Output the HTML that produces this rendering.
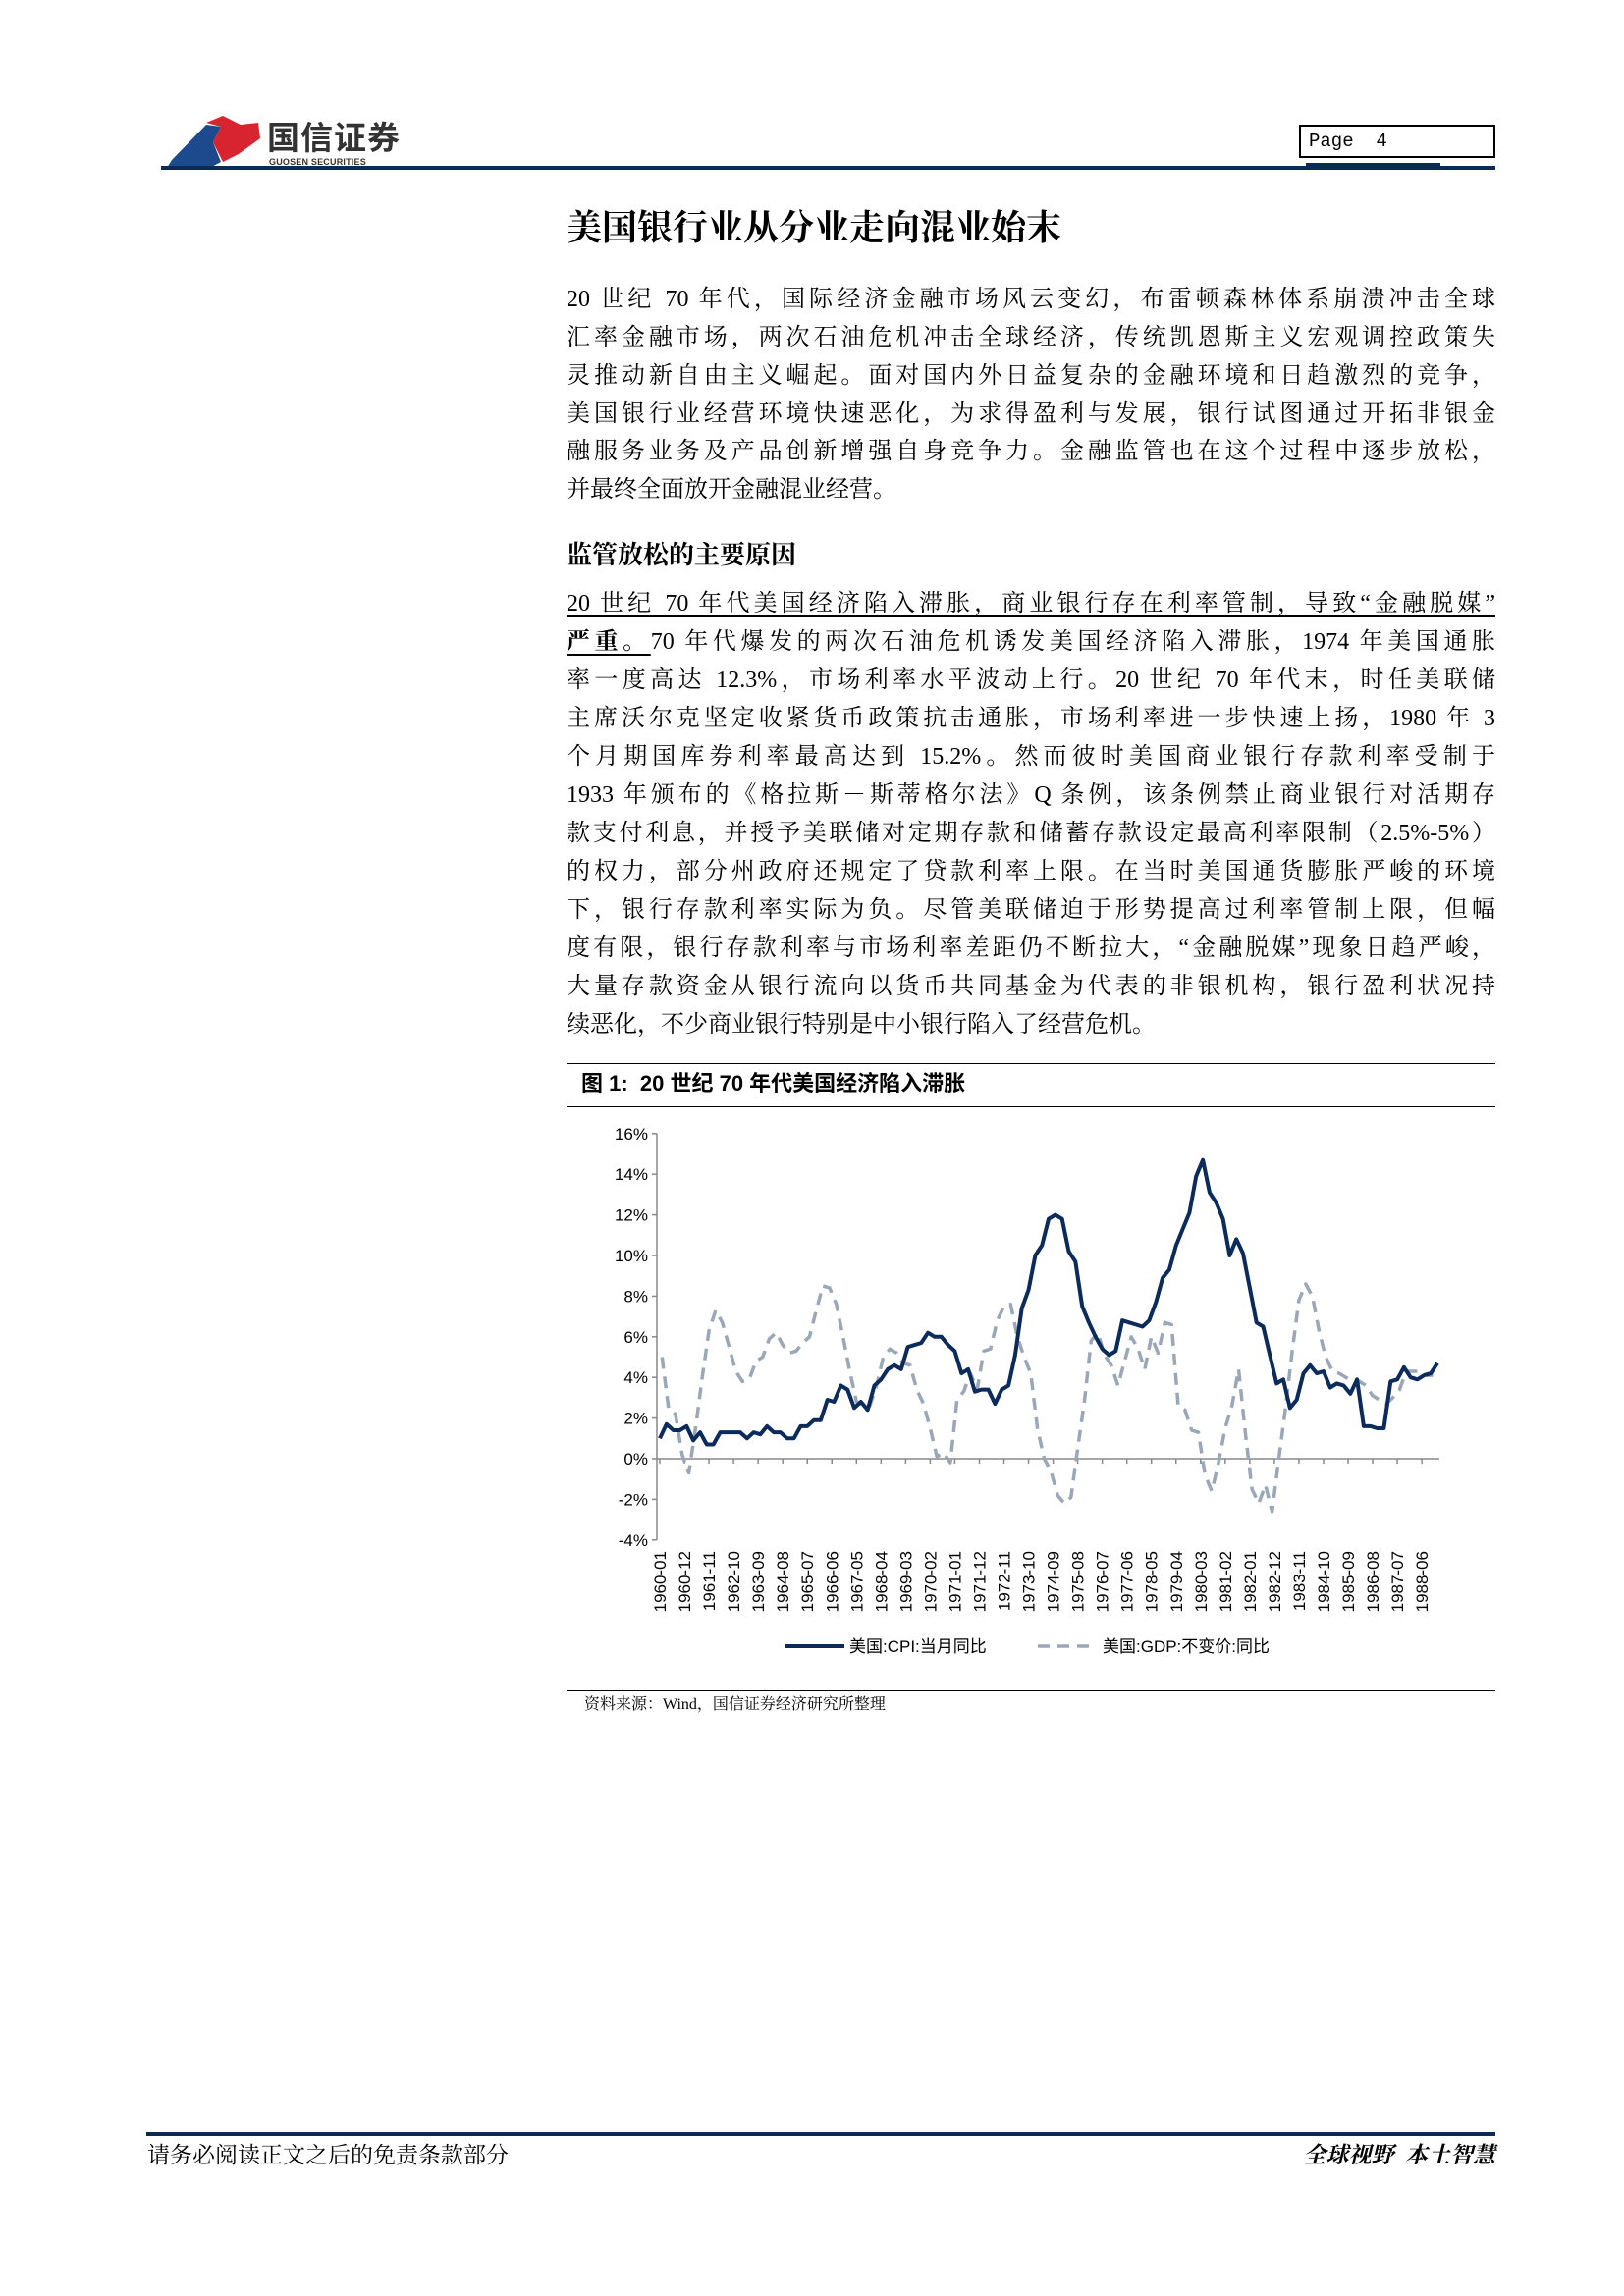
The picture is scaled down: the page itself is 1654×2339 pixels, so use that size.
<!DOCTYPE html>
<html><head><meta charset="utf-8">
<style>
body{margin:0;background:#fff;}
#page{position:relative;width:1654px;height:2339px;overflow:hidden;background:#fff;font-family:"Liberation Serif","Noto Serif CJK SC",serif;color:#000;}
.abs{position:absolute;}
.ln{position:absolute;left:577px;width:946px;font-size:24px;line-height:30px;height:30px;white-space:nowrap;text-align:justify;text-align-last:justify;}
.ln.last{text-align-last:left;}
.u{text-decoration:underline;text-underline-offset:5px;}
</style></head><body>
<div id="page">
  <svg class="abs" style="left:165px;top:115px" width="110" height="60">
    <polygon points="10,48 45,12 60,14 52,30 60,50 45,58 5,56" fill="#1d4a8c"/>
    <polygon points="45,10 62,3 80,12 98,10 100,26 78,42 62,50 52,30 60,14" fill="#d7242f"/>
  </svg>
  <div class="abs" style="left:272px;top:122px;font-family:'Liberation Sans','Noto Sans CJK SC',sans-serif;font-size:33px;font-weight:bold;color:#333;letter-spacing:1px;line-height:38px;">国信证券</div>
  <div class="abs" style="left:274px;top:160px;font-family:'Liberation Sans',sans-serif;font-size:9px;font-weight:bold;color:#333;line-height:10px;letter-spacing:0.2px;">GUOSEN SECURITIES</div>
  <div class="abs" style="left:164px;top:169px;width:1359px;height:4px;background:#0d2a55;"></div>
  <div class="abs" style="left:1323px;top:127px;width:188px;height:30px;border:2px solid #000;font-family:'Liberation Mono',monospace;font-size:19px;line-height:30px;padding-left:8px;box-sizing:content-box;">Page&nbsp;&nbsp;4</div>
  <div class="abs" style="left:1330px;top:166px;width:137px;height:3px;background:#0d2a55;"></div>

  <div class="abs" style="left:577px;top:210px;font-size:36px;font-weight:bold;line-height:44px;">美国银行业从分业走向混业始末</div>

  <div>
    <div class="ln" style="top:290px">20 世纪 70 年代，国际经济金融市场风云变幻，布雷顿森林体系崩溃冲击全球</div>
    <div class="ln" style="top:329px">汇率金融市场，两次石油危机冲击全球经济，传统凯恩斯主义宏观调控政策失</div>
    <div class="ln" style="top:368px">灵推动新自由主义崛起。面对国内外日益复杂的金融环境和日趋激烈的竞争，</div>
    <div class="ln" style="top:407px">美国银行业经营环境快速恶化，为求得盈利与发展，银行试图通过开拓非银金</div>
    <div class="ln" style="top:445px">融服务业务及产品创新增强自身竞争力。金融监管也在这个过程中逐步放松，</div>
    <div class="ln last" style="top:484px">并最终全面放开金融混业经营。</div>
  </div>

  <div class="abs" style="left:577px;top:550px;font-size:26px;font-weight:bold;line-height:32px;">监管放松的主要原因</div>

  <div>
    <div class="ln u" style="top:600px">20 世纪 70 年代美国经济陷入滞胀，商业银行存在利率管制，导致“金融脱媒”</div>
    <div class="ln" style="top:639px"><span class="u" style="font-weight:bold">严重。</span>70 年代爆发的两次石油危机诱发美国经济陷入滞胀，1974 年美国通胀</div>
    <div class="ln" style="top:678px">率一度高达 12.3%，市场利率水平波动上行。20 世纪 70 年代末，时任美联储</div>
    <div class="ln" style="top:717px">主席沃尔克坚定收紧货币政策抗击通胀，市场利率进一步快速上扬，1980 年 3</div>
    <div class="ln" style="top:756px">个月期国库券利率最高达到 15.2%。然而彼时美国商业银行存款利率受制于</div>
    <div class="ln" style="top:795px">1933 年颁布的《格拉斯－斯蒂格尔法》Q 条例，该条例禁止商业银行对活期存</div>
    <div class="ln" style="top:834px">款支付利息，并授予美联储对定期存款和储蓄存款设定最高利率限制（2.5%-5%）</div>
    <div class="ln" style="top:873px">的权力，部分州政府还规定了贷款利率上限。在当时美国通货膨胀严峻的环境</div>
    <div class="ln" style="top:912px">下，银行存款利率实际为负。尽管美联储迫于形势提高过利率管制上限，但幅</div>
    <div class="ln" style="top:951px">度有限，银行存款利率与市场利率差距仍不断拉大，“金融脱媒”现象日趋严峻，</div>
    <div class="ln" style="top:990px">大量存款资金从银行流向以货币共同基金为代表的非银机构，银行盈利状况持</div>
    <div class="ln last" style="top:1029px">续恶化，不少商业银行特别是中小银行陷入了经营危机。</div>
  </div>

  <div class="abs" style="left:577px;top:1083px;width:946px;height:1px;background:#000;"></div>
  <div class="abs" style="left:592px;top:1090px;font-family:'Liberation Sans','Noto Sans CJK SC',sans-serif;font-size:22px;font-weight:bold;line-height:28px;">图 1:&nbsp; 20 世纪 70 年代美国经济陷入滞胀</div>
  <div class="abs" style="left:577px;top:1127px;width:946px;height:1px;background:#000;"></div>

  <svg id="chart" class="abs" style="left:0;top:0" width="1654" height="1760"></svg>

  <div class="abs" style="left:577px;top:1722px;width:946px;height:1px;background:#000;"></div>
  <div class="abs" style="left:595px;top:1726px;font-size:16px;line-height:22px;">资料来源：Wind，国信证券经济研究所整理</div>

  <div class="abs" style="left:149px;top:2172px;width:1374px;height:4px;background:#0d2a55;"></div>
  <div class="abs" style="left:150px;top:2181px;font-size:23px;line-height:30px;">请务必阅读正文之后的免责条款部分</div>
  <div class="abs" style="right:131px;top:2181px;font-size:23px;line-height:30px;font-weight:bold;font-style:italic;">全球视野&nbsp;&nbsp;本土智慧</div>
</div>
<script>
const yTicks=[16,14,12,10,8,6,4,2,0,-2,-4];
const xTickLabels=["1960-01","1960-12","1961-11","1962-10","1963-09","1964-08","1965-07","1966-06","1967-05","1968-04","1969-03","1970-02","1971-01","1971-12","1972-11","1973-10","1974-09","1975-08","1976-07","1977-06","1978-05","1979-04","1980-03","1981-02","1982-01","1982-12","1983-11","1984-10","1985-09","1986-08","1987-07","1988-06"];
// CPI YoY sampled every 3 months from 1960-01
const cpiValues=[1.0,1.7,1.4,1.4, 1.6,0.9,1.3,0.7, 0.7,1.3,1.3,1.3, 1.3,1.0,1.3,1.2, 1.6,1.3,1.3,1.0, 1.0,1.6,1.6,1.9, 1.9,2.9,2.8,3.6, 3.4,2.5,2.8,2.4, 3.6,3.9,4.4,4.6, 4.4,5.5,5.6,5.7, 6.2,6.0,6.0,5.6, 5.3,4.2,4.4,3.3, 3.4,3.4,2.7,3.4, 3.6,5.1,7.4,8.3, 10.0,10.5,11.8,12.0, 11.8,10.2,9.7,7.5, 6.7,6.0,5.4,5.1, 5.3,6.8,6.7,6.6, 6.5,6.8,7.7,8.9, 9.3,10.5,11.3,12.1, 13.9,14.7,13.1,12.6, 11.8,10.0,10.8,10.1, 8.4,6.7,6.5,5.1, 3.7,3.9,2.5,2.9, 4.2,4.6,4.2,4.3, 3.5,3.7,3.6,3.2, 3.9,1.6,1.6,1.5, 1.5,3.8,3.9,4.5, 4.0,3.9,4.1,4.2, 4.7];
// Real GDP YoY quarterly from 1960Q1
const gdpValues=[5.0,2.4,2.2,0.2, -0.7,1.5,4.0,6.3, 7.3,6.7,5.5,4.3, 3.8,3.9,4.8,5.0, 5.9,6.2,5.6,5.2, 5.3,5.7,6.0,7.3, 8.5,8.4,7.6,6.0, 4.3,2.8,2.6,2.6, 3.6,5.0,5.4,5.2, 4.7,4.6,3.4,2.7, 1.5,0.1,0.3,-0.2, 2.9,3.3,4.2,3.4, 5.3,5.4,6.8,7.5, 7.6,6.0,5.0,4.2, 1.5,0.0,-0.6,-1.8, -2.2,-1.9,0.5,2.8, 5.8,6.2,5.1,4.6, 3.6,4.8,6.0,5.4, 4.4,6.0,5.2,6.7, 6.6,2.6,2.4,1.4, 1.3,-0.8,-1.6,-0.2, 1.5,2.6,4.4,1.3, -1.5,-2.2,-1.3,-2.6, 0.0,2.5,5.3,7.8, 8.6,8.0,6.3,5.0, 4.3,4.2,4.0,3.8, 3.8,3.6,3.1,2.9, 2.7,3.0,3.4,4.3, 4.3,4.3,4.1,4.1];

const NS="http://www.w3.org/2000/svg";
const svg=document.getElementById('chart');
const X0=672,PX=2.276,Y0=1486,PY=20.7,AXL=669,XEND=1466;
function xs(m){return X0+m*PX;}
function ys(v){return Y0-v*PY;}
function mk(t,a){const e=document.createElementNS(NS,t);for(const k in a)e.setAttribute(k,a[k]);svg.appendChild(e);return e;}
let ya=mk('line',{x1:AXL,y1:ys(16),x2:AXL,y2:ys(-4),stroke:'#888','stroke-width':1.5});


yTicks.forEach(v=>{
  let t=mk('line',{x1:AXL-5,y1:ys(v),x2:AXL,y2:ys(v),stroke:'#888','stroke-width':1.5});
  
  
  let l=mk('text',{x:AXL-9,y:ys(v)+6,'text-anchor':'end','font-family':'Liberation Sans, sans-serif','font-size':17,fill:'#000'});
  l.textContent=v+'%';
  
  
});
let xa=mk('line',{x1:AXL,y1:ys(0),x2:XEND,y2:ys(0),stroke:'#888','stroke-width':1.5});


xTickLabels.forEach((s,i)=>{
  const yr=+s.slice(0,4),mo=+s.slice(5,7);
  const m=(yr-1960)*12+(mo-1);
  const x=xs(m);
  let t=mk('line',{x1:x,y1:ys(0),x2:x,y2:ys(0)+5,stroke:'#888','stroke-width':1.5});
  
  
  let l=mk('text',{x:0,y:0,transform:`translate(${x+6},1580) rotate(-90)`,'text-anchor':'end','font-family':'Liberation Sans, sans-serif','font-size':17,fill:'#000'});
  l.textContent=s;
  
  
});
let gp=gdpValues.map((v,q)=>xs(q*3+1).toFixed(1)+','+ys(v).toFixed(1)).join(' ');
let g=mk('polyline',{points:gp,fill:'none',stroke:'#9aa7b8','stroke-width':3.5,'stroke-dasharray':'12,8','stroke-linejoin':'round'});


let cp=cpiValues.map((v,i)=>xs(i*3).toFixed(1)+','+ys(v).toFixed(1)).join(' ');
let c=mk('polyline',{points:cp,fill:'none',stroke:'#0b2b5c','stroke-width':4,'stroke-linejoin':'round'});


let l1=mk('line',{x1:799,y1:1677,x2:860,y2:1677,stroke:'#0b2b5c','stroke-width':4});


let t1=mk('text',{x:865,y:1683,'font-family':'Liberation Sans, Noto Sans CJK SC, sans-serif','font-size':17});
t1.textContent='美国:CPI:当月同比';


let l2=mk('line',{x1:1057,y1:1677,x2:1109,y2:1677,stroke:'#9aa7b8','stroke-width':3.5,'stroke-dasharray':'12,8'});


let t2=mk('text',{x:1123,y:1683,'font-family':'Liberation Sans, Noto Sans CJK SC, sans-serif','font-size':17});
t2.textContent='美国:GDP:不变价:同比';


</script>
</body></html>
